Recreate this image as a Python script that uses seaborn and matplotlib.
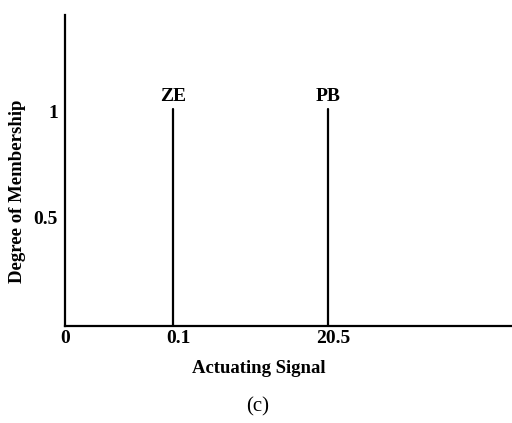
import numpy as np
import pandas as pd
import matplotlib
matplotlib.use("Agg")
import matplotlib.pyplot as plt
import matplotlib.transforms as mtransforms
import seaborn as sns

# singleton membership functions
terms = ["ZE", "PB"]
centers = [0.1, 20.5]
heights = [1.0, 1.0]
x_ticks = [0, 0.1, 20.5]
x_tick_labels = ["0", "0.1", "20.5"]
y_ticks = [0.5, 1]
y_tick_labels = ["0.5", "1"]

# the drawing is not to scale: piecewise-linear axis
scale_src = [0, 0.1, 20.5, 40]
scale_dst = [0, 0.2416, 0.588, 1.0]


def forward(x):
    return np.interp(x, scale_src, scale_dst)


def inverse(x):
    return np.interp(x, scale_dst, scale_src)


def build_frame():
    rows = []
    for t, c, h in zip(terms, centers, heights):
        rows.append({"term": t, "x": c, "mu": 0.0})
        rows.append({"term": t, "x": c, "mu": h})
    return pd.DataFrame(rows)


def main():
    sns.set_style("white", {"text.color": "black", "axes.labelcolor": "black",
                            "xtick.color": "black", "ytick.color": "black"})
    plt.rcParams["font.family"] = ["Liberation Serif", "DejaVu Serif"]

    df = build_frame()
    fig = plt.figure(figsize=(5.12, 4.23), dpi=100)
    ax = fig.add_axes([65 / 512, 97 / 423, 447 / 512, 311 / 423])
    ax.set_xscale("function", functions=(forward, inverse))

    sns.lineplot(data=df, x="x", y="mu", units="term", estimator=None,
                 color="black", linewidth=1.6, ax=ax, legend=False)

    for t, c, h in zip(terms, centers, heights):
        ax.text(c, h + 0.015, t, ha="center", va="bottom",
                fontsize=14, fontweight="bold")

    ax.set_xlim(0, 40)
    ax.set_ylim(0, 1.43)
    ax.set_xticks(x_ticks)
    ax.set_xticklabels(x_tick_labels, fontsize=14, fontweight="bold")
    ax.set_yticks(y_ticks)
    ax.set_yticklabels(y_tick_labels, fontsize=14, fontweight="bold")
    ax.tick_params(axis="x", length=0, pad=3)
    ax.tick_params(axis="y", length=0, pad=5)

    # labels sit slightly right of / below their marks in the drawing
    shift = mtransforms.ScaledTranslation(5 / 100, 0, fig.dpi_scale_trans)
    for lab in ax.get_xticklabels()[1:]:
        lab.set_transform(lab.get_transform() + shift)
    ydrop = mtransforms.ScaledTranslation(0, -3 / 100, fig.dpi_scale_trans)
    ax.get_yticklabels()[1].set_transform(ax.get_yticklabels()[1].get_transform() + ydrop)

    for side in ["top", "right"]:
        ax.spines[side].set_visible(False)
    for side in ["left", "bottom"]:
        ax.spines[side].set_linewidth(1.6)
        ax.spines[side].set_color("black")

    ax.set_xlabel("Actuating Signal", fontsize=13.5, fontweight="bold")
    ax.xaxis.set_label_coords((259 - 65) / 447, -0.108)
    ax.set_ylabel("")
    fig.text(18 / 512, 1 - 191 / 423, "Degree of Membership", rotation=90,
             ha="center", va="center", fontsize=13.5, fontweight="bold")
    fig.text(258 / 512, 1 - 407 / 423, "(c)", ha="center", va="center", fontsize=15)

    fig.savefig("out.png", dpi=100)


if __name__ == "__main__":
    main()
